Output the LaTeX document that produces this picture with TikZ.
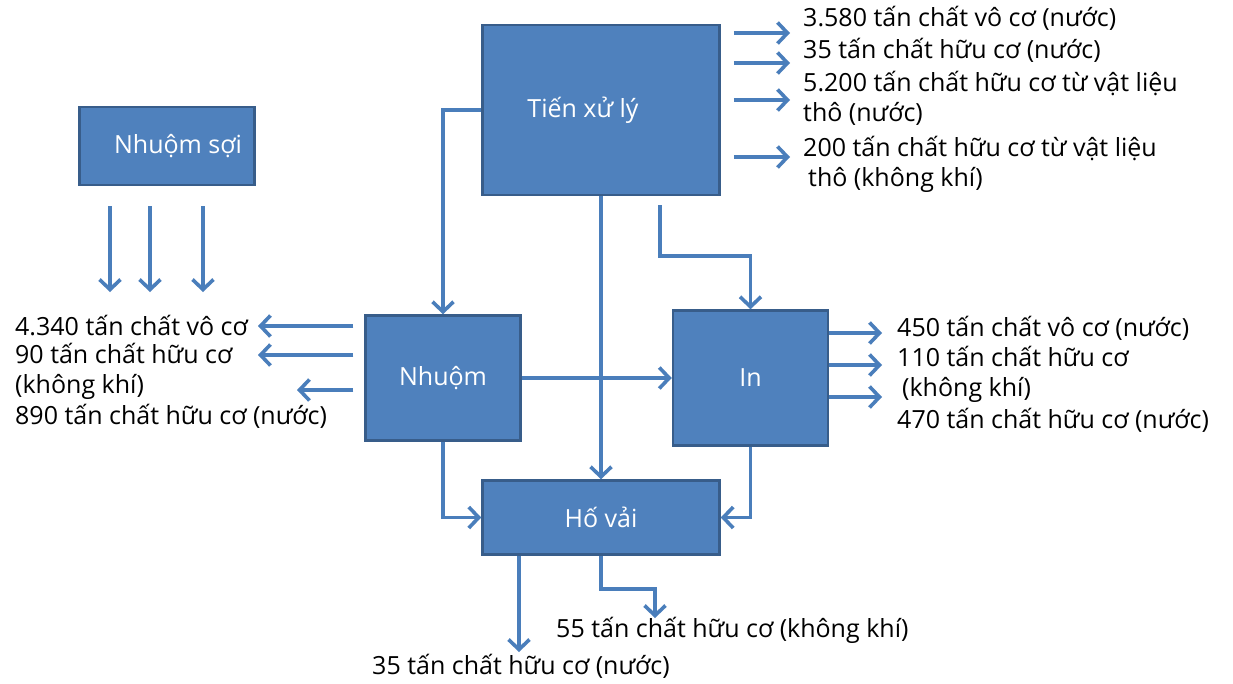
\documentclass[tikz,border=0pt]{standalone}
\usepackage{fontspec}
\setmainfont{Open Sans}
\usetikzlibrary{positioning, arrows.meta}

\definecolor{boxfill}{HTML}{4F81BD}
\definecolor{boxedge}{HTML}{385D8A}
\definecolor{flow}{HTML}{4A7EBB}

\begin{document}
\begin{tikzpicture}[
        x=1pt, y=-1pt,
        box/.style={rectangle, draw=boxedge, line width=2.5pt, fill=boxfill, text=white, inner sep=0pt, font=\fontsize{25}{30}\selectfont},
        lbl/.style={anchor=west, inner sep=0pt, align=left, font=\fontsize{25}{30}\selectfont},
        arrow/.style={-{Straight Barb[length=10pt, width=21pt]}, line width=3.6pt, draw=flow},
    ]
        \path[use as bounding box, fill=white] (0,0) rectangle (1233,683);

        % Process boxes
        \node[box, minimum width=237pt, minimum height=170pt] (tienxuly) at (601,110) {\kern-36pt Tiến xử lý};
        \node[box, minimum width=155pt, minimum height=125pt, below=118pt of tienxuly, xshift=-158pt] (nhuom) {Nhuộm};
        \node[box, minimum width=155pt, minimum height=135pt, right=150pt of nhuom] (inhoa) {In};
        \node[box, minimum width=237pt, minimum height=74pt, below=283pt of tienxuly] (hovai) {Hố vải};
        \node[box, minimum width=175pt, minimum height=78pt] (nhuomsoi) at (167,146) {Nhuộm sợi\kern-22pt};

        % Output labels
        \node[lbl] (tx1) at (803,18) {3.580 tấn chất vô cơ (nước)};
        \node[lbl] (tx2) at (803,50) {35 tấn chất hữu cơ (nước)};
        \node[lbl] (tx3) at (803,98) {5.200 tấn chất hữu cơ từ vật liệu\\thô (nước)};
        \node[lbl] (tx4) at (803,164) {200 tấn chất hữu cơ từ vật liệu\\\hspace*{5pt}thô (không khí)};

        \node[lbl] (in1) at (897,328) {450 tấn chất vô cơ (nước)};
        \node[lbl] (in2) at (897,374) {110 tấn chất hữu cơ\\\hspace*{5pt}(không khí)};
        \node[lbl] (in3) at (897,420) {470 tấn chất hữu cơ (nước)};

        \node[lbl] (nh1) at (15,326) {4.340 tấn chất vô cơ};
        \node[lbl] (nh2) at (15,371) {90 tấn chất hữu cơ\\(không khí)};
        \node[lbl] (nh3) at (15,416) {890 tấn chất hữu cơ (nước)};

        \node[lbl] (hv1) at (556,630) {55 tấn chất hữu cơ (không khí)};
        \node[lbl] (hv2) at (372,666) {35 tấn chất hữu cơ (nước)};

        % Free ends
        \coordinate (tr) at ([xshift=13pt]tienxuly.east);
        \coordinate (t1) at (790,33);
        \coordinate (t2) at (790,63);
        \coordinate (t3) at (790,100);
        \coordinate (t4) at (790,157);
        \coordinate (i1) at (882,333);
        \coordinate (i2) at (882,365);
        \coordinate (i3) at (882,397);
        \coordinate (nl) at ([xshift=-11pt]nhuom.west);
        \coordinate (l1) at (258,326);
        \coordinate (l2) at (258,355);
        \coordinate (l3) at (297,390);
        \coordinate (sb) at ([yshift=-20pt]nhuomsoi.south);
        \coordinate (s1) at (110,292);
        \coordinate (s2) at (150,292);
        \coordinate (s3) at (203,292);
        \coordinate (split) at (660,205);
        \coordinate (b1) at (519,652);
        \coordinate (b2) at (655,618);

        % Flows between processes
        \draw[arrow] (tienxuly.west) -| (nhuom.north);
        \draw[arrow] (tienxuly) -- (hovai);
        \draw[arrow] (split) -- ++(0,51) -| (inhoa.north);
        \draw[arrow] (nhuom) -- (inhoa);
        \draw[arrow] (nhuom.south) |- (hovai.west);
        \draw[arrow] (inhoa.south) |- (hovai.east);

        % Waste outputs
        \draw[arrow] (tr |- t1) -- (t1);
        \draw[arrow] (tr |- t2) -- (t2);
        \draw[arrow] (tr |- t3) -- (t3);
        \draw[arrow] (tr |- t4) -- (t4);
        \draw[arrow] (inhoa.east |- i1) -- (i1);
        \draw[arrow] (inhoa.east |- i2) -- (i2);
        \draw[arrow] (inhoa.east |- i3) -- (i3);
        \draw[arrow] (nl |- l1) -- (l1);
        \draw[arrow] (nl |- l2) -- (l2);
        \draw[arrow] (nl |- l3) -- (l3);
        \draw[arrow] (sb -| s1) -- (s1);
        \draw[arrow] (sb -| s2) -- (s2);
        \draw[arrow] (sb -| s3) -- (s3);
        \draw[arrow] (hovai.south -| b1) -- (b1);
        \draw[arrow] (hovai.south) -- ++(0,33) -| (b2);
    \end{tikzpicture}
\end{document}
